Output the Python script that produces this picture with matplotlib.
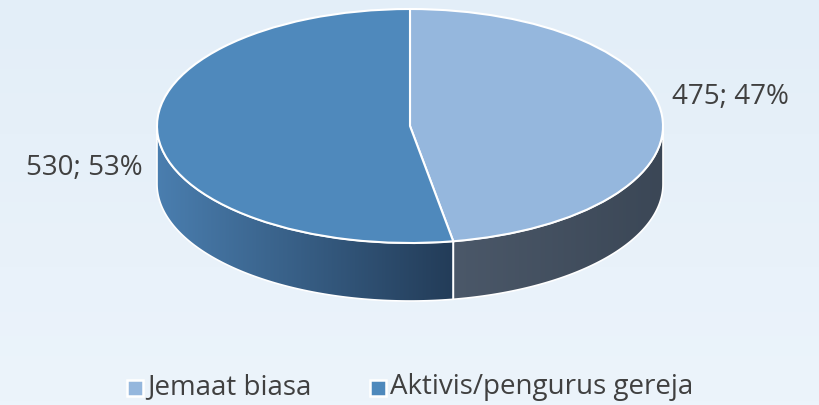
import matplotlib.pyplot as plt
import numpy as np
from matplotlib.patches import Polygon, Rectangle
from matplotlib.transforms import Affine2D
from matplotlib.colors import LinearSegmentedColormap

categories = ["Jemaat biasa", "Aktivis/pengurus gereja"]
values = [475, 530]
colors = ["#95b7dd", "#4f89bc"]

W, H = 820, 405
cx, cy = 410, 405 - 126   # centre of the top face (y up)
rx, ry = 253, 117
depth = 58

fig = plt.figure(figsize=(8.2, 4.05), dpi=100)
ax = fig.add_axes([0, 0, 1, 1])

# background gradient
bg = np.linspace(0, 1, 100).reshape(-1, 1)
bg_cmap = LinearSegmentedColormap.from_list("bg", ["#e3eef8", "#ecf4fb"])
ax.imshow(bg, extent=[0, W, 0, H], cmap=bg_cmap, aspect="auto", zorder=0)

total = sum(values)
fracs = [v / total for v in values]
# angles measured clockwise from 12 o'clock
edges = np.concatenate([[0], np.cumsum(fracs) * 360])


def pt(theta_deg, dz=0):
    t = np.radians(theta_deg)
    return cx + rx * np.sin(t), cy + ry * np.cos(t) - dz


side_maps = [
    LinearSegmentedColormap.from_list("s0", ["#4b5869", "#3b4756"]),
    LinearSegmentedColormap.from_list("s1", ["#4a7eaf", "#233c58"]),
]

# sides (only the front half, 90..270 deg)
for i in range(len(values)):
    a0, a1 = max(edges[i], 90), min(edges[i + 1], 270)
    if a1 <= a0:
        continue
    th = np.linspace(a0, a1, 120)
    top = np.array([pt(t) for t in th])
    bot = np.array([pt(t, depth) for t in th[::-1]])
    verts = np.vstack([top, bot])
    poly = Polygon(verts, closed=True, facecolor="none", edgecolor="white",
                   linewidth=1.2, zorder=3)
    ax.add_patch(poly)
    grad = np.linspace(0, 1, 256).reshape(1, -1)
    ext = [verts[:, 0].min(), verts[:, 0].max(),
           verts[:, 1].min(), verts[:, 1].max()]
    im = ax.imshow(grad, extent=ext, cmap=side_maps[i], aspect="auto", zorder=2)
    im.set_clip_path(poly)

# top face: ordinary pie squashed into an ellipse
wedges, _ = ax.pie(values, colors=colors, startangle=90, counterclock=False,
                   wedgeprops=dict(edgecolor="white", linewidth=1.5))
squash = Affine2D().scale(rx, ry).translate(cx, cy) + ax.transData
for w in wedges:
    w.set_transform(squash)
    w.set_zorder(4)

ax.set_xlim(0, W)
ax.set_ylim(0, H)
ax.set_aspect("auto")
ax.axis("off")

# data labels
font = ["Open Sans", "DejaVu Sans"]
labels = [f"{v}; {round(f * 100)}%" for v, f in zip(values, fracs)]
ax.text(672, 405 - 97, labels[0], fontsize=20, color="#404040",
        family=font, ha="left", va="center", zorder=6)
ax.text(143, 405 - 168, labels[1], fontsize=20, color="#404040",
        family=font, ha="right", va="center", zorder=6)

# legend
leg_x = [135, 378]
for x, c, name in zip(leg_x, colors, categories):
    ax.add_patch(Rectangle((x - 8, 405 - 396), 16, 16, facecolor=c,
                           edgecolor="white", linewidth=1.8, zorder=6))
    ax.text(x + 12, 405 - 387, name, fontsize=20, color="#404040",
            family=font, ha="left", va="center", zorder=6)

fig.savefig("out.png", dpi=100)
